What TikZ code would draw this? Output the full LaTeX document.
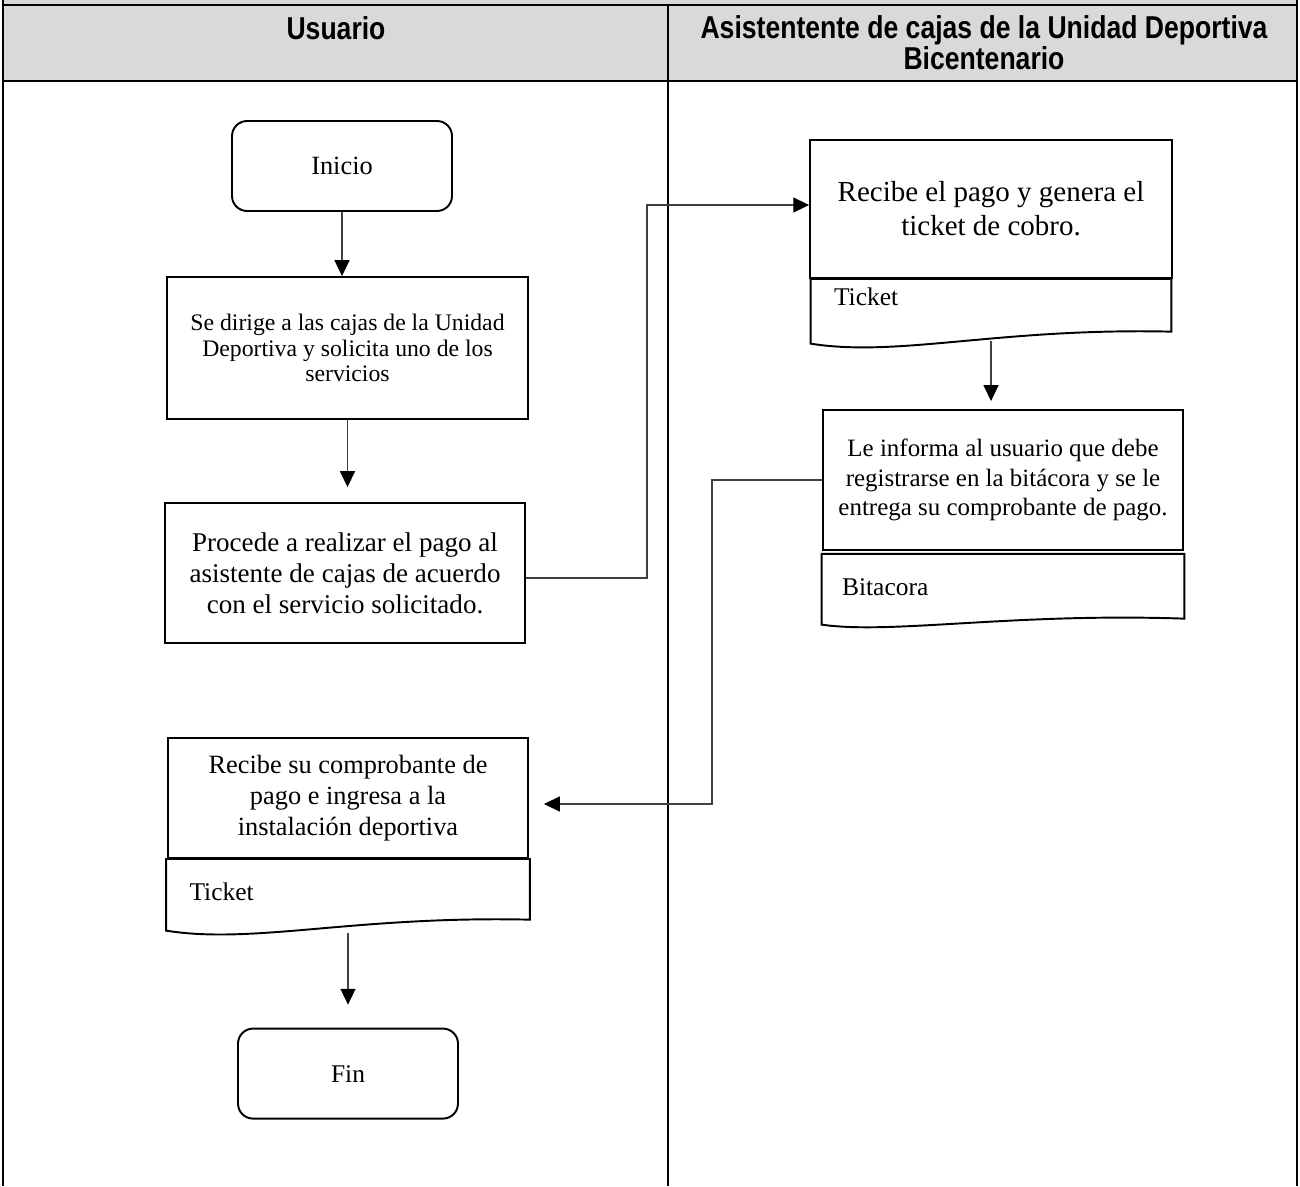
\documentclass[tikz,border=0pt]{standalone}
\usepackage{fontspec}
\setmainfont{Liberation Serif}
\newfontfamily\lanefont[FakeStretch=0.84]{Liberation Sans}
\usetikzlibrary{positioning, calc, arrows.meta}
\definecolor{laneGray}{HTML}{D9D9D9}
\definecolor{flowLine}{HTML}{404040}

\begin{document}
\begin{tikzpicture}[x=0.02cm, y=-0.02cm,
  proc/.style={draw, line width=1.1pt, align=center, inner sep=0pt},
  term/.style={proc, rounded corners=0.3cm, minimum width=4.4cm, minimum height=1.8cm},
  docpart/.style={inner sep=0pt},
  docline/.style={line width=1.1pt},
  doclbl/.style={anchor=north west, inner sep=0pt, font=\fontsize{14.5}{17}\selectfont},
  arr/.style={-{Triangle[length=9pt, width=8.5pt, color=black]}, line width=0.7pt, draw=flowLine},
  lane/.style={line width=1.1pt},
  head/.style={font=\lanefont\bfseries\fontsize{18}{17.5}\selectfont, align=center, inner sep=0pt}
]
\useasboundingbox (0,0) rectangle (1300,1186);

% swimlanes
\fill[laneGray] (3,0) rectangle (1297,81);
\draw[lane] (3,0) -- (3,1186);
\draw[lane] (1297,0) -- (1297,1186);
\draw[lane] (668,5) -- (668,1186);
\draw[line width=1.6pt] (3,5) -- (1297,5);
\draw[line width=1.6pt] (3,81) -- (1297,81);

\node[head] (hUser) at (336,28) {Usuario};
\node[head] (hCaja) at (984,43) {Asistentente de cajas de la Unidad Deportiva\\Bicentenario};

% usuario
\node[term, font=\fontsize{15}{18}\selectfont] (inicio) at (342,166) {Inicio};
\node[proc, minimum width=7.22cm, minimum height=2.84cm, font=\fontsize{13.5}{14.5}\selectfont] (dirige) at (347.5,348)
  {Se dirige a las cajas de la Unidad\\Deportiva y solicita uno de los\\servicios};
\node[proc, minimum width=7.2cm, minimum height=2.8cm, font=\fontsize{15.4}{17.6}\selectfont] (paga) at (345,573)
  {Procede a realizar el pago al\\asistente de cajas de acuerdo\\con el servicio solicitado.};
\node[proc, minimum width=7.2cm, minimum height=2.4cm, font=\fontsize{15}{17.6}\selectfont] (comprobante) at (348,798)
  {Recibe su comprobante de\\pago e ingresa a la\\instalaci\'on deportiva};
\node[docpart, minimum width=7.26cm, minimum height=1.2cm, below=0pt of comprobante,
  label={[doclbl, xshift=0.46cm, yshift=-0.48cm]north west:Ticket}] (ticketC) {};
\node[term, font=\fontsize{14.5}{17}\selectfont, below=2.16cm of ticketC] (fin) {Fin};

% asistente de cajas
\node[proc, minimum width=7.24cm, minimum height=2.76cm, font=\fontsize{16.5}{19.3}\selectfont] (cobro) at (991,209)
  {Recibe el pago y genera el\\ticket de cobro.};
\node[docpart, minimum width=7.2cm, minimum height=1.04cm, below=0pt of cobro,
  label={[doclbl, xshift=0.46cm, yshift=-0.18cm]north west:Ticket}] (ticketA) {};
\node[proc, minimum width=7.2cm, minimum height=2.8cm, font=\fontsize{14.2}{17}\selectfont] (informa) at (1003,480)
  {Le informa al usuario que debe\\registrarse en la bit\'acora y se le\\entrega su comprobante de pago.};
\node[docpart, minimum width=7.24cm, minimum height=1.28cm, below=0.06cm of informa,
  label={[doclbl, xshift=0.4cm, yshift=-0.48cm]north west:Bitacora}] (bitacora) {};

% document bottoms
\draw[docline] (ticketA.north east) -- (ticketA.north west) -- ($(ticketA.south west)+(0,12)$)
  .. controls ($(ticketA.south west)+(88,26)$) and ($(ticketA.south west)+(188,-4)$) .. (ticketA.south east) -- cycle;
\draw[docline] (bitacora.north east) -- (bitacora.north west) -- ($(bitacora.south west)+(0,6)$)
  .. controls ($(bitacora.south west)+(70,16)$) and ($(bitacora.south west)+(190,-6)$) .. (bitacora.south east) -- cycle;
\draw[docline] (ticketC.north east) -- (ticketC.north west) -- ($(ticketC.south west)+(0,11)$)
  .. controls ($(ticketC.south west)+(88,25)$) and ($(ticketC.south west)+(188,-4)$) .. (ticketC.south east) -- cycle;

% flujo
\draw[arr] (inicio.south) -- (inicio.south |- dirige.north);
\draw[arr, shorten >=0.3cm] (dirige.south) -- (dirige.south |- paga.north);
\draw[arr] ([yshift=-0.1cm]paga.east) -- ++(121,0) |- ([yshift=0.08cm]cobro.west);
\draw[arr, shorten <=0.18cm, shorten >=0.16cm] (ticketA.south) -- (ticketA.south |- informa.north);
\draw[arr, shorten >=0.3cm] (informa.west) -- ++(-110,0) |- ([yshift=-0.12cm]comprobante.east);
\draw[arr, shorten <=0.26cm, shorten >=0.46cm] (ticketC.south) -- (fin.north);
\end{tikzpicture}
\end{document}
